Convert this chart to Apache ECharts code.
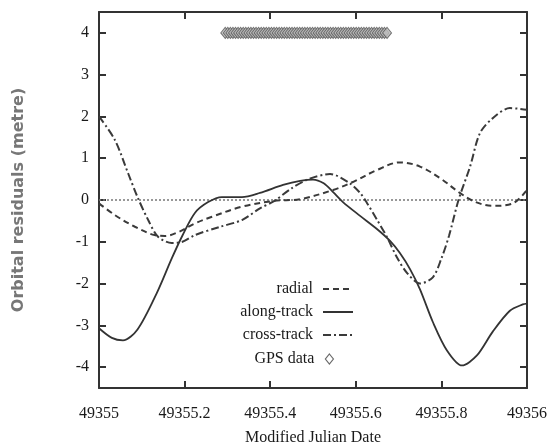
<!DOCTYPE html>
<html>
<head>
<meta charset="utf-8">
<script src="https://cdn.jsdelivr.net/npm/echarts@6/dist/echarts.min.js"></script>
<style>
html,body{margin:0;padding:0;background:#fff;}
#chart{width:552px;height:446px;}
</style>
</head>
<body>
<div id="chart"></div>
<script>
// ---- data (MJD, metres) ----
var radialX = [49355, 49355.037, 49355.084, 49355.13, 49355.154, 49355.185, 49355.224, 49355.264, 49355.334, 49355.41, 49355.47, 49355.547, 49355.593, 49355.65, 49355.703, 49355.75, 49355.8, 49355.843, 49355.88, 49355.92, 49355.967, 49356];
var radialY = [-0.08, -0.36, -0.64, -0.84, -0.86, -0.77, -0.56, -0.4, -0.16, -0.02, 0.02, 0.24, 0.43, 0.72, 0.9, 0.8, 0.5, 0.17, -0.05, -0.14, -0.08, 0.24];

var alongX = [49355, 49355.03, 49355.056, 49355.09, 49355.135, 49355.17, 49355.195, 49355.224, 49355.255, 49355.287, 49355.334, 49355.376, 49355.43, 49355.47, 49355.5, 49355.525, 49355.547, 49355.57, 49355.61, 49355.65, 49355.68, 49355.703, 49355.727, 49355.75, 49355.78, 49355.813, 49355.848, 49355.883, 49355.92, 49355.96, 49355.99, 49356];
var alongY = [-3.07, -3.3, -3.36, -3.1, -2.23, -1.4, -0.85, -0.31, -0.05, 0.07, 0.07, 0.17, 0.36, 0.46, 0.49, 0.4, 0.19, -0.05, -0.38, -0.7, -0.98, -1.27, -1.66, -2.14, -2.92, -3.6, -3.96, -3.72, -3.15, -2.65, -2.5, -2.48];

var crossX = [49355, 49355.037, 49355.068, 49355.09, 49355.115, 49355.138, 49355.17, 49355.195, 49355.224, 49355.28, 49355.334, 49355.376, 49355.41, 49355.45, 49355.49, 49355.54, 49355.586, 49355.61, 49355.626, 49355.65, 49355.673, 49355.696, 49355.72, 49355.75, 49355.78, 49355.8, 49355.818, 49355.84, 49355.867, 49355.89, 49355.92, 49355.96, 49356];
var crossY = [2.0, 1.44, 0.64, 0.07, -0.48, -0.88, -1.03, -1.0, -0.84, -0.65, -0.48, -0.2, -0.02, 0.28, 0.5, 0.62, 0.4, 0.17, -0.07, -0.48, -0.89, -1.37, -1.75, -2.0, -1.85, -1.4, -0.85, 0.0, 0.8, 1.6, 1.96, 2.2, 2.16];

var gpsX = [49355.295, 49355.301, 49355.307, 49355.313, 49355.319, 49355.325, 49355.331, 49355.337, 49355.343, 49355.349,
            49355.355, 49355.361, 49355.367, 49355.373, 49355.379, 49355.385, 49355.391, 49355.397, 49355.403, 49355.409,
            49355.415, 49355.421, 49355.427, 49355.433, 49355.439, 49355.445, 49355.451, 49355.457, 49355.463, 49355.469,
            49355.475, 49355.481, 49355.487, 49355.493, 49355.499, 49355.505, 49355.511, 49355.517, 49355.523, 49355.529,
            49355.535, 49355.541, 49355.547, 49355.553, 49355.559, 49355.565, 49355.571, 49355.577, 49355.583, 49355.589,
            49355.595, 49355.601, 49355.607, 49355.613, 49355.619, 49355.625, 49355.631, 49355.637, 49355.643, 49355.649,
            49355.655, 49355.661, 49355.667, 49355.673];
var gpsLevel = 4;

var zeroX = [49355, 49356];
var zeroY = [0, 0];

var yTicks = [-4, -3, -2, -1, 0, 1, 2, 3, 4];
var seriesNames = ['radial', 'along-track', 'cross-track', 'GPS data'];

function pairs(xs, ys) { return xs.map(function (x, i) { return [x, ys[i]]; }); }

var ink = '#333';
var serif = '"Liberation Serif", "Times New Roman", serif';
var legendText = { fontFamily: serif, fontSize: 16, color: '#1a1a1a', padding: [0, 5, 0, 0] };

var chart = echarts.init(document.getElementById('chart'), null, { renderer: 'canvas' });
chart.setOption({
  animation: false,
  backgroundColor: '#fff',
  grid: { left: 99, right: 25, top: 12, bottom: 58, show: false, outerBoundsMode: 'none', containLabel: false },
  legend: [{
    data: [
      { name: seriesNames[0], itemStyle: { opacity: 0 } },
      { name: seriesNames[1], itemStyle: { opacity: 0 } },
      { name: seriesNames[2], itemStyle: { opacity: 0 } }
    ],
    orient: 'vertical',
    align: 'right',
    right: 193,
    top: 276,
    itemWidth: 30,
    itemHeight: 14,
    itemGap: 7,
    textStyle: legendText,
    selectedMode: false
  }, {
    data: [seriesNames[3]],
    orient: 'vertical',
    align: 'right',
    right: 213,
    top: 346,
    itemWidth: 8,
    itemHeight: 10,
    textStyle: { fontFamily: serif, fontSize: 16, color: '#1a1a1a', padding: [0, 6, 0, 0] },
    itemStyle: { color: '#fff', borderColor: '#444', borderWidth: 1.2 },
    selectedMode: false
  }],
  xAxis: [{
    type: 'value', min: 49355, max: 49356, interval: 0.2,
    position: 'bottom',
    name: 'Modified Julian Date', nameLocation: 'middle', nameGap: 42,
    nameTextStyle: { fontFamily: serif, fontSize: 16, color: '#1a1a1a' },
    axisLine: { show: true, onZero: false, lineStyle: { color: ink, width: 2 } },
    axisTick: { show: true, inside: true, length: 7, lineStyle: { color: ink, width: 2 } },
    axisLabel: {
      margin: 18, fontFamily: serif, fontSize: 16, color: '#1a1a1a', showMinLabel: true, showMaxLabel: true,
      formatter: function (v) { return String(Math.round(v * 10) / 10); }
    },
    splitLine: { show: false }
  }, {
    type: 'value', min: 49355, max: 49356, interval: 0.2,
    position: 'top',
    axisLine: { show: true, onZero: false, lineStyle: { color: ink, width: 2 } },
    axisTick: { show: true, inside: true, length: 7, lineStyle: { color: ink, width: 2 } },
    axisLabel: { show: false },
    splitLine: { show: false }
  }],
  yAxis: [{
    type: 'value', min: -4.5, max: 4.5,
    position: 'left',
    name: 'Orbital residuals (metre)', nameLocation: 'middle', nameGap: 72,
    nameTextStyle: { fontFamily: '"DejaVu Sans", sans-serif', fontWeight: 'bold', fontSize: 16, color: '#777' },
    axisLine: { show: true, onZero: false, lineStyle: { color: ink, width: 2 } },
    axisTick: { show: true, inside: true, length: 7, customValues: yTicks, lineStyle: { color: ink, width: 2 } },
    axisLabel: { margin: 10, fontFamily: serif, fontSize: 16, color: '#1a1a1a', customValues: yTicks },
    splitLine: { show: false }
  }, {
    type: 'value', min: -4.5, max: 4.5,
    position: 'right',
    axisLine: { show: true, onZero: false, lineStyle: { color: ink, width: 2 } },
    axisTick: { show: true, inside: true, length: 7, customValues: yTicks, lineStyle: { color: ink, width: 2 } },
    axisLabel: { show: false },
    splitLine: { show: false }
  }],
  series: [
    {
      name: 'zero', type: 'line', data: pairs(zeroX, zeroY), symbol: 'none', silent: true,
      lineStyle: { color: '#777', width: 1.5, type: [2, 2] }, z: 1
    },
    {
      name: seriesNames[0], type: 'line', data: pairs(radialX, radialY), symbol: 'none', smooth: 0.35,
      lineStyle: { color: '#3a3a3a', width: 2, type: [6, 4] }, itemStyle: { color: '#3a3a3a' }, z: 3
    },
    {
      name: seriesNames[1], type: 'line', data: pairs(alongX, alongY), symbol: 'none', smooth: 0.3,
      lineStyle: { color: '#333', width: 1.8, type: 'solid' }, itemStyle: { color: '#333' }, z: 3
    },
    {
      name: seriesNames[2], type: 'line', data: pairs(crossX, crossY), symbol: 'none', smooth: 0.3,
      lineStyle: { color: '#3a3a3a', width: 2, type: [8, 3, 2, 3] }, itemStyle: { color: '#3a3a3a' }, z: 3
    },
    {
      name: seriesNames[3], type: 'scatter', data: gpsX.map(function (x) { return [x, gpsLevel]; }),
      symbol: 'diamond', symbolSize: [9, 11],
      itemStyle: { color: '#bbb', borderColor: '#555', borderWidth: 1 }, z: 4
    }
  ]
});
</script>
</body>
</html>
